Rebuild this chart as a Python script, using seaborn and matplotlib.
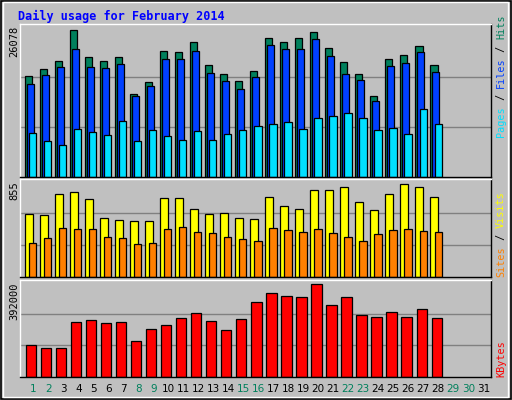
import numpy as np
import pandas as pd
import matplotlib
matplotlib.use("Agg")
import matplotlib.pyplot as plt
import seaborn as sns

days = list(range(1, 29))
hits_px = [166,145,121,28,109,121,109,220,184,91,94,64,133,160,181,151,52,64,52,34,82,124,160,226,115,103,76,133]
files_px = [190,163,139,85,139,142,130,226,196,115,115,91,157,181,205,169,73,85,85,55,106,160,178,241,136,127,94,154]
pages_px = [337,361,373,325,334,343,301,361,328,346,358,331,358,340,328,316,310,304,325,292,286,277,292,328,322,340,265,310]
visits_px = [118,121,58,52,73,130,136,139,139,70,70,103,118,115,130,133,67,94,103,46,46,37,82,106,58,28,37,67]
sites_px = [202,190,160,163,163,187,190,205,202,163,157,172,175,187,193,199,160,166,172,163,175,187,199,178,166,163,169,172]
kb_px = [508,517,517,439,433,442,439,496,460,448,427,415,436,463,430,382,355,364,367,328,391,367,418,424,412,424,403,427]

hits = [round((468 - v) / 450 * 26078) for v in hits_px]
files = [round((468 - v) / 450 * 26078) for v in files_px]
pages = [round((468 - v) / 450 * 26078) for v in pages_px]
visits = [round((304 - v) / 284 * 855) for v in visits_px]
sites = [round((304 - v) / 284 * 855) for v in sites_px]
kbytes = [round((602 - v) / 280 * 392000) for v in kb_px]

max_top, max_mid, max_bot = 26078, 855, 392000
weekend = {1, 2, 8, 9, 15, 16, 22, 23, 29, 30}

BG = "#C0C0C0"
GREEN = "#00805C"
fig = plt.figure(figsize=(5.12, 4.0), dpi=100, facecolor=BG)
mono = "DejaVu Sans Mono"

def panel(rect, series, vmax):
    ax = fig.add_axes(rect)
    ax.set_facecolor(BG)
    for vals, col, off, w in series:
        df = pd.DataFrame({"x": [d + off for d in days], "y": vals})
        sns.barplot(data=df, x="x", y="y", native_scale=True, width=w,
                    color=col, saturation=1, edgecolor="black", linewidth=0.9, ax=ax)
    ax.set_xlim(0.11, 31.5)
    ax.set_ylim(0, vmax * 1.02)
    for f in (1/3, 2/3):
        ax.axhline(vmax * f, color="#808080", lw=1, zorder=0)
    ax.set_xticks([]); ax.set_yticks([])
    ax.set_xlabel(""); ax.set_ylabel("")
    for s in ax.spines.values():
        s.set_color("black"); s.set_linewidth(1)
    ax.spines["top"].set_color("white"); ax.spines["left"].set_color("white")
    return ax

L, W = 20/512, 471/512
panel([L, 1-177/400, W, 153/400],
      [(hits, GREEN, -0.30, 0.47), (files, "#0040FF", -0.17, 0.47), (pages, "#00E0FF", -0.03, 0.47)], max_top)
panel([L, 1-277/400, W, 98/400],
      [(visits, "#FFFF00", -0.27, 0.53), (sites, "#FF8000", -0.03, 0.47)], max_mid)
panel([L, 1-377/400, W, 97/400],
      [(kbytes, "#FF0000", -0.13, 0.67)], max_bot)

fig.text(18/512, 1-16/400, "Daily usage for February 2014", color="#0000FF",
         fontsize=8.5, fontweight="bold", family=mono, va="center", ha="left")

for y, t in [(26, "26078"), (181, "855"), (282, "392000")]:
    fig.text(14/512, 1-y/400, t, rotation=90, fontsize=7.5, family=mono, va="top", ha="center")

FS = 7.3
STEP = 0.602 * FS * 100 / 72
def vlegend(parts, ybottom):
    y = ybottom
    for t, c in parts:
        fig.text(501/512, 1-y/400, t, rotation=90, color=c, fontsize=FS,
                 family=mono, va="bottom", ha="center")
        y -= len(t) * STEP
vlegend([("Pages", "#00E0FF"), (" / ", "black"), ("Files", "#0040FF"), (" / ", "black"), ("Hits", GREEN)], 137)
vlegend([("Sites", "#FF8000"), (" / ", "black"), ("Visits", "#FFFF00")], 277)
vlegend([("KBytes", "#FF0000")], 377)

for d in range(1, 32):
    fig.text((33.3 + 15*(d-1))/512, 1-389/400, str(d), fontsize=7.5, family="DejaVu Sans",
             color=GREEN if d in weekend else "black", ha="center", va="center")

from matplotlib.patches import Rectangle
fig.patches.append(Rectangle((0.002, 0.003), 0.996, 0.995, transform=fig.transFigure,
                             fill=False, edgecolor="black", lw=1.2))
fig.patches.append(Rectangle((0.006, 0.008), 0.986, 0.987, transform=fig.transFigure,
                             fill=False, edgecolor="white", lw=1))

fig.savefig("out.png", dpi=100, facecolor=BG)
